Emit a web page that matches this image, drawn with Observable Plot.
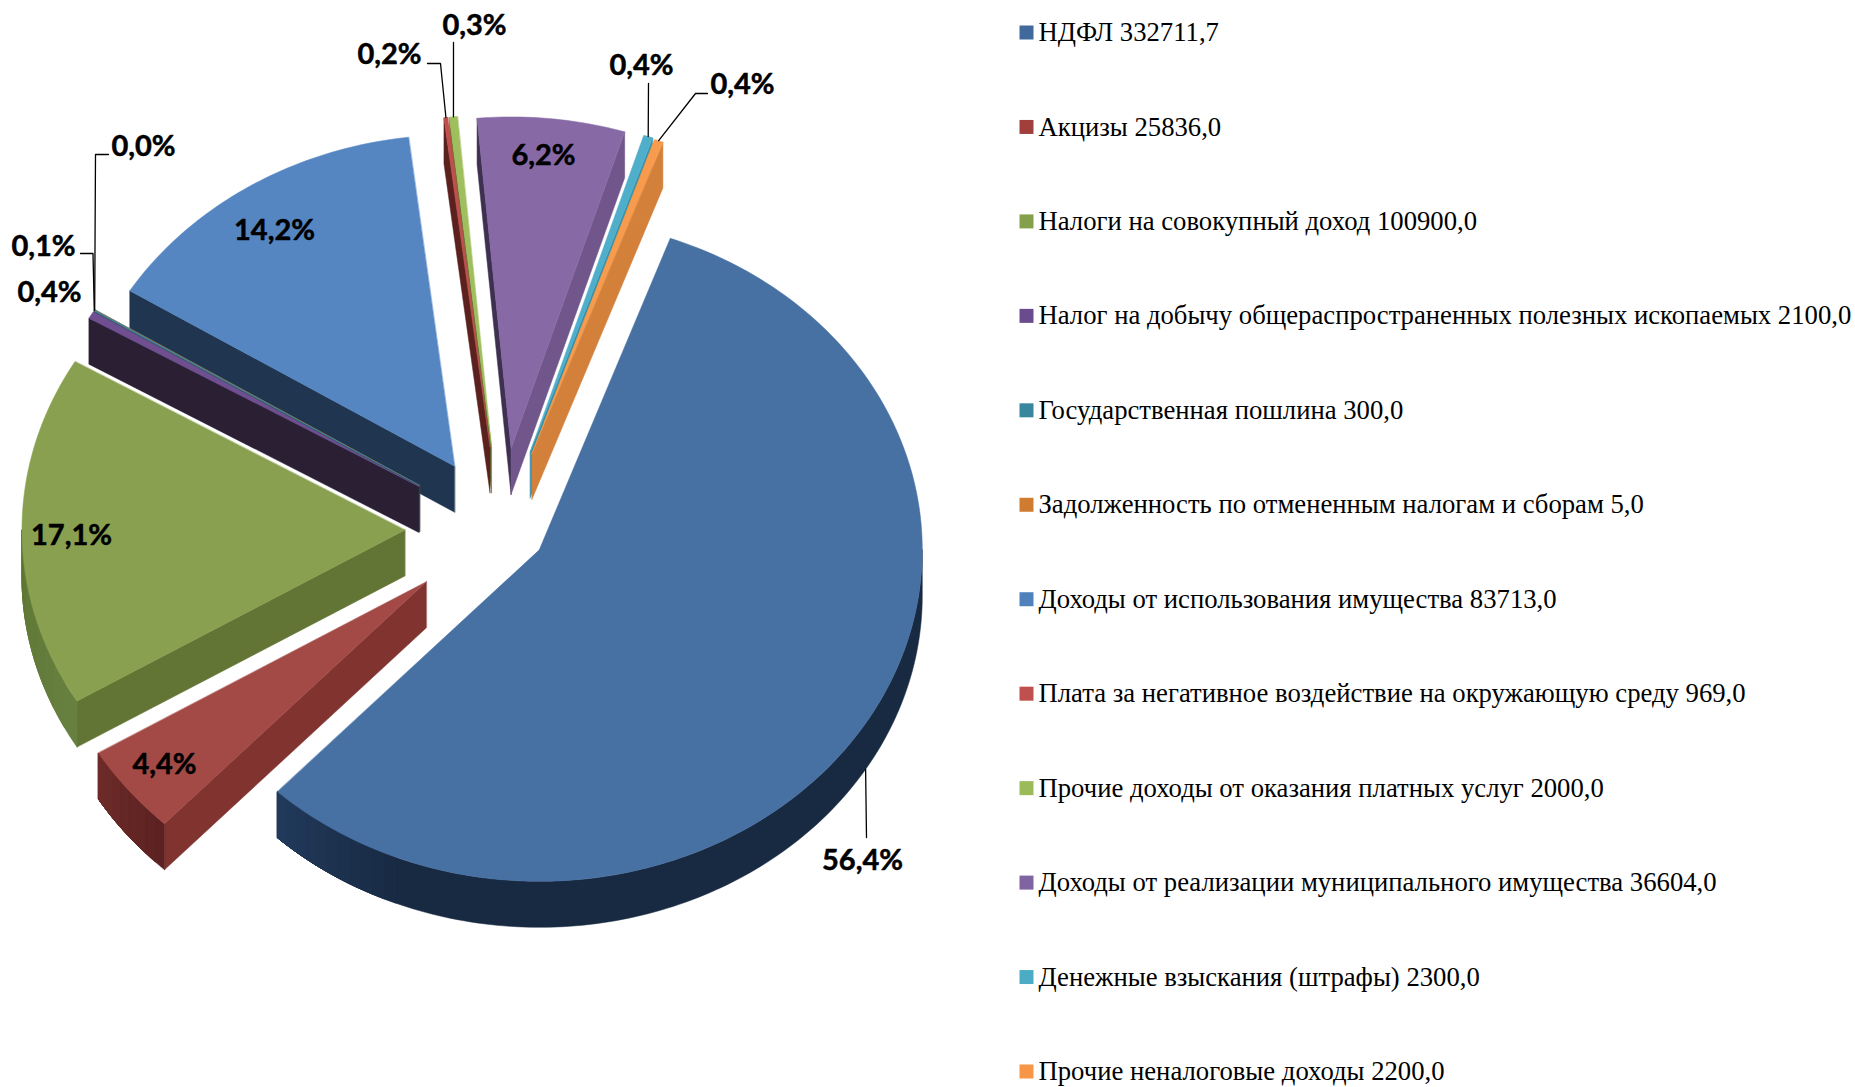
<!DOCTYPE html>
<html lang="ru">
<head>
<meta charset="utf-8">
<title>Доходы</title>
<script src="https://cdn.jsdelivr.net/npm/d3@7"></script>
<script src="https://cdn.jsdelivr.net/npm/@observablehq/plot@0.6"></script>
<style>
html,body{margin:0;padding:0;background:#fff;overflow:hidden}
#wrap{display:flex;width:1855px;height:1087px}
svg{display:block}
</style>
</head>
<body>
<div id="wrap"></div>
<script>
// ---- data ----
const categories = ["НДФЛ","Акцизы","Налоги на совокупный доход","Налог на добычу общераспространенных полезных ископаемых","Государственная пошлина","Задолженность по отмененным налогам и сборам","Доходы от использования имущества","Плата за негативное воздействие на окружающую среду","Прочие доходы от оказания платных услуг","Доходы от реализации муниципального имущества","Денежные взыскания (штрафы)","Прочие неналоговые доходы"];
const values = [332711.7,25836.0,100900.0,2100.0,300.0,5.0,83713.0,969.0,2000.0,36604.0,2300.0,2200.0];

// ---- styles ----
const legendColors = ["#40699C","#A03F3C","#84A04B","#6A4C8E","#38879F","#CF7C30","#4F81BD","#C0504D","#9BBB59","#8064A2","#4BACC6","#F79646"];
const topColors    = ["#4770A3","#A34A47","#88A04F","#6F4F8F","#3B8A9E","#CF7C30","#5586C2","#C0504D","#9FBF5F","#8669A5","#4FAFCB","#F99B4C"];
const edgeColors   = ["#182A42","#80332F","#637535","#2B1F33","#1E5160","#7D4A1C","#1F3550","#5A211F","#5F7530","#3E3050","#358FA8","#D2803A"];
const endEdgeColors= ["#182A42","#80332F","#637535","#2B1F33","#1E5160","#7D4A1C","#1F3550","#5A211F","#5F7530","#70568A","#358FA8","#D2803A"];
const outerNear    = ["#182A42","#5C2221","#5E7735","#2B1F33","#1E5160","#7D4A1C","#1F3550","#5A211F","#5F7530","#3E3050","#358FA8","#D2803A"];
const outerFar     = ["#21395A","#6C2B28","#67803F","#2B1F33","#1E5160","#7D4A1C","#1F3550","#5A211F","#5F7530","#3E3050","#358FA8","#D2803A"];

// ---- layout ----
const W = 1855, H = 1087, pieW = 1010;
const centre = [500.6, 529], radii = [383, 331.5], depthPx = 46, firstAngle = 20;
const explode = [0.117,0.251,0.251,0.251,0.251,0.251,0.226,0.251,0.251,0.246,0.246,0.243];
const paintOrder = [10,11,9,8,7,6,5,4,3,2,1,0];
const labelAt = [[862,860],[164,764],[71,535],[49,292],[43,246],[143,146],[274,230],[389,54],[474,25],[543,155],[641,65],[742,84]];
const leaders = {0:{edge:"bottom",via:[[866,837]]},4:{via:[[92.5,253],[80,253]]},5:{via:[[95,154],[108,154]]},7:{via:[[440,63],[427,63]]},8:{via:[[453,42]]},10:{via:[[648,83]]},11:{via:[[695,93],[707,93]]}};

const ux = p => (p - centre[0]) / radii[0];
const uy = p => (centre[1] - p) / radii[1];
const depth = depthPx / radii[1];
const rad = d => d * Math.PI / 180;
const total = d3.sum(values);

let acc = firstAngle;
const slices = values.map((v, i) => {
  const a0 = acc, a1 = acc + v / total * 360; acc = a1;
  const mid = (a0 + a1) / 2;
  return {i, a0, a1, mid, tx: explode[i] * Math.sin(rad(mid)), ty: explode[i] * Math.cos(rad(mid))};
});
const pt = (s, a, drop = 0) => ({x: s.tx + Math.sin(rad(a)), y: s.ty + Math.cos(rad(a)) - drop});
const tip = (s, drop = 0) => ({x: s.tx, y: s.ty - drop});

const rows = [];
let faceId = 0;
const addFace = (pts, color) => { const face = faceId++; pts.forEach(p => rows.push({...p, face, color})); };
const arc = (s, a, b, drop = 0) => { const n = Math.max(2, Math.ceil(Math.abs(b - a)) + 1); return d3.range(n).map(k => pt(s, a + (b - a) * k / (n - 1), drop)); };

for (const idx of paintOrder) {
  const s = slices[idx];
  // radial walls
  if (Math.sin(rad(s.a0)) < 0) addFace([tip(s), pt(s, s.a0), pt(s, s.a0, depth), tip(s, depth)], edgeColors[idx]);
  if (Math.sin(rad(s.a1)) > 0) addFace([tip(s), pt(s, s.a1), pt(s, s.a1, depth), tip(s, depth)], endEdgeColors[idx]);
  // outer wall: overlapping bands that shade along the rim
  const lo = Math.max(s.a0, 90), hi = Math.min(s.a1, 270);
  if (hi > lo) {
    const shade = d3.interpolateRgb(outerNear[idx], outerFar[idx]);
    const fadeFrom = idx === 0 ? 200 : lo, fadeTo = idx === 0 ? s.a1 : hi;
    const bands = idx === 0 ? 12 : 8;
    addFace([...arc(s, lo, hi), ...arc(s, hi, lo, depth)], d3.color(shade(idx === 2 ? 1 : 0)).formatHex());
    for (let k = 1; k < bands; k++) {
      const t = k / (bands - 1);
      const a = fadeFrom + (fadeTo - fadeFrom) * (k / bands);
      addFace([...arc(s, a, hi), ...arc(s, hi, a, depth)], d3.color(shade(idx === 2 ? 1 - t : t)).formatHex());
    }
  }
  // top surface
  addFace([tip(s), ...arc(s, s.a0, s.a1)], topColors[idx]);
}

const pct = v => (v / total * 100).toFixed(1).replace(".", ",") + "%";
const labels = values.map((v, i) => ({text: pct(v), x: ux(labelAt[i][0]), y: uy(labelAt[i][1])}));

const leaderRows = [];
for (const key of Object.keys(leaders)) {
  const s = slices[+key], l = leaders[key];
  const start = pt(s, s.mid, l.edge === "bottom" ? depth : 0);
  [start, ...l.via.map(p => ({x: ux(p[0]), y: uy(p[1])}))].forEach(p => leaderRows.push({...p, key}));
}

const pie = Plot.plot({
  width: pieW, height: H, margin: 0,
  x: {domain: [ux(0), ux(pieW)], range: [0, pieW], axis: null},
  y: {domain: [uy(0), uy(H)], range: [0, H], axis: null},
  color: {type: "identity"},
  style: {background: "#fff"},
  marks: [
    Plot.line(rows, {x: "x", y: "y", z: "face", fill: "color", stroke: "color", strokeWidth: 0.5, curve: "linear-closed"}),
    Plot.line(leaderRows, {x: "x", y: "y", z: "key", stroke: "#000", strokeWidth: 1.3, curve: "linear"}),
    Plot.text(labels, {x: "x", y: "y", text: "text", fontFamily: "Lato", fontWeight: 700, fontSize: 29, fill: "#000", stroke: "#000", strokeWidth: 0.5, textAnchor: "middle", lineAnchor: "middle"})
  ]
});

const fmt = v => v.toFixed(1).replace(".", ",");
const legendRows = categories.map((c, i) => ({key: c, text: c + " " + fmt(values[i]), color: legendColors[i]}));
const legend = Plot.plot({
  width: W - pieW, height: H, margin: 0,
  y: {type: "point", domain: categories, range: [32, 1071], padding: 0, round: false, axis: null},
  color: {type: "identity"},
  style: {background: "#fff"},
  marks: [
    Plot.dot(legendRows, {y: "key", frameAnchor: "left", dx: 1026 - pieW, symbol: "square", r: 7.9, fill: "color", stroke: null}),
    Plot.text(legendRows, {y: "key", text: "text", frameAnchor: "left", dx: 1038 - pieW, textAnchor: "start", lineAnchor: "middle", fontFamily: "Liberation Serif", fontSize: 26.7, fill: "#000"})
  ]
});

document.getElementById("wrap").append(pie, legend);
</script>
</body>
</html>
